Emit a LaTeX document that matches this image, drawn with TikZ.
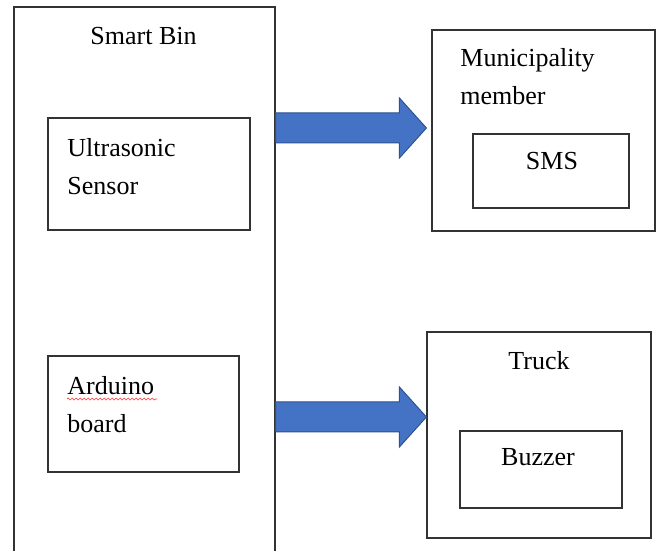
\documentclass[tikz,border=0pt]{standalone}
\usepackage{fontspec}
\setmainfont{Liberation Serif}
\usetikzlibrary{positioning,calc,decorations.pathmorphing}
\definecolor{arrowblue}{HTML}{4472C4}
\definecolor{arrowedge}{HTML}{2F528F}

% block arrow from #1 to the tip #2
\newcommand{\blockarrow}[2]{%
  \draw[bigarrow] ($(#1)+(0,-7.5)$) -- ($(#2)+(-13.5,-7.5)$) -- ($(#2)+(-13.5,-15)$) -- (#2)
    -- ($(#2)+(-13.5,15)$) -- ($(#2)+(-13.5,7.5)$) -- ($(#1)+(0,7.5)$) -- cycle;}

\begin{document}
\begin{tikzpicture}[x=1pt,y=-1pt,
    box/.style={draw=black!80, line width=0.6pt, inner sep=0pt},
    txt/.style={inner sep=0pt, font=\fontsize{13}{19}\selectfont, align=left},
    bigarrow/.style={fill=arrowblue, draw=arrowedge, line width=0.5pt}]
  \useasboundingbox (0,0) rectangle (330,275.5);
  \clip (0,0) rectangle (330,275.5);

  % smart bin
  \node[box, minimum width=130.5pt, minimum height=281.5pt] (bin) at (72.25,144.25) {};
  \node[txt, anchor=base] (binText) at (71.75,22.5) {Smart Bin};
  \node[box, minimum width=101pt, minimum height=56pt] (sensor) at (74.5,87) {};
  \node[txt, anchor=base west] (sensorText) at (33.5,97.5) {Ultrasonic\\Sensor};
  \node[box, minimum width=95.5pt, minimum height=58pt] (arduino) at (71.75,207) {};
  \node[txt, anchor=base west] (arduinoText) at (33.5,216) {Arduino\\board};
  \draw[red!80, line width=0.35pt, decorate, decoration={snake, amplitude=0.5pt, segment length=2pt}]
    ($(arduinoText.base west)+(0,-16.5)$) -- ++(45,0);

  % municipality member
  \node[box, minimum width=111.5pt, minimum height=100.5pt] (muni) at (271.75,65.25) {};
  \node[txt, anchor=base west] (muniText) at (230,52.5) {Municipality\\member};
  \node[box, minimum width=78pt, minimum height=37pt] (sms) at (275.5,85.5) {};
  \node[txt, anchor=base] (smsText) at (276,85) {SMS};

  % truck
  \node[box, minimum width=112pt, minimum height=103pt] (truck) at (269.5,217.5) {};
  \node[txt, anchor=base] (truckText) at (269.5,185) {Truck};
  \node[box, minimum width=81pt, minimum height=38.5pt] (buzzer) at (270.5,234.75) {};
  \node[txt, anchor=base] (buzzerText) at (269,233) {Buzzer};

  % arrows
  \coordinate (a1s) at (bin.east |- 0,64);
  \coordinate (a1e) at ([xshift=-2.5pt]muni.west |- 0,64);
  \coordinate (a2s) at (bin.east |- 0,208.5);
  \coordinate (a2e) at (truck.west |- 0,208.5);
  \blockarrow{a1s}{a1e}
  \blockarrow{a2s}{a2e}
\end{tikzpicture}
\end{document}
